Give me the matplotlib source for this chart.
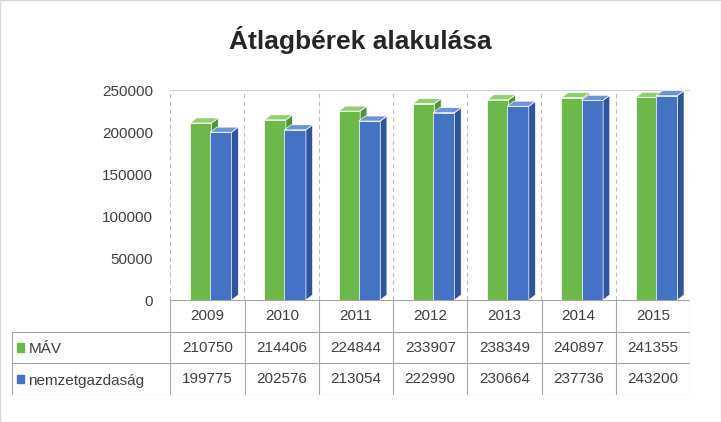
import matplotlib.pyplot as plt
from matplotlib.patches import Polygon, Rectangle

plt.rcParams["font.family"] = ["Liberation Sans", "DejaVu Sans"]

years = ["2009", "2010", "2011", "2012", "2013", "2014", "2015"]
mav = [210750, 214406, 224844, 233907, 238349, 240897, 241355]
nemzet = [199775, 202576, 213054, 222990, 230664, 237736, 243200]
series_names = ["MÁV", "nemzetgazdaság"]
yticks = [0, 50000, 100000, 150000, 200000, 250000]

green_front, green_side, green_top = "#6cb84a", "#4f9435", "#8fd06d"
blue_front, blue_side, blue_top = "#4472c4", "#2f55a0", "#6d93d8"

fig = plt.figure(figsize=(7.21, 4.22), dpi=100)
fig.text(0.5, 0.905, "Átlagbérek alakulása", ha="center", va="center",
         fontsize=19, fontweight="bold", color="#262626")

ax = fig.add_axes([170 / 721, 1 - 300 / 422, 520 / 721, 210 / 422])
ax.set_xlim(-0.5, 6.5)
ax.set_ylim(0, 250000)
for s in ax.spines.values():
    s.set_visible(False)
ax.set_xticks([])
ax.set_yticks(yticks)
ax.tick_params(axis="y", length=0, labelsize=11, labelcolor="#404040", pad=12)

# back wall / grid
for b in range(8):
    ax.axvline(b - 0.5, color="#bfbfbf", lw=0.8, ls=(0, (4, 3)), zorder=0)
ax.plot([-0.5, 6.5], [250000, 250000], color="#d0d0d0", lw=0.8, zorder=0)

w = 0.29
dx, dy = 0.09, 6000


def bar3d(x, h, front, side, top):
    ax.add_patch(Rectangle((x, 0), w, h, facecolor=front, edgecolor="white", lw=0.5, zorder=3))
    ax.add_patch(Polygon([(x + w, 0), (x + w + dx, dy), (x + w + dx, h + dy), (x + w, h)],
                         facecolor=side, edgecolor="white", lw=0.5, zorder=3))
    ax.add_patch(Polygon([(x, h), (x + dx, h + dy), (x + w + dx, h + dy), (x + w, h)],
                         facecolor=top, edgecolor="white", lw=0.5, zorder=3))


for i in range(len(years)):
    bar3d(i - 0.23, mav[i], green_front, green_side, green_top)
    bar3d(i + 0.04, nemzet[i], blue_front, blue_side, blue_top)

# data table
lab_w = 158 / 74
tx = fig.add_axes([12 / 721, 1 - 395 / 422, 678 / 721, 95 / 422])
tx.set_xlim(-0.5 - lab_w, 6.5)
tx.set_ylim(0, 3)
tx.axis("off")
gc = "#a6a6a6"
for b in range(8):
    tx.plot([b - 0.5, b - 0.5], [0, 3], color=gc, lw=0.8)
tx.plot([-0.5 - lab_w, -0.5 - lab_w], [0, 2], color=gc, lw=0.8)
tx.plot([-0.5, 6.5], [3, 3], color=gc, lw=0.8)
for yy in [0, 1, 2]:
    tx.plot([-0.5 - lab_w, 6.5], [yy, yy], color=gc, lw=0.8)
for i, yr in enumerate(years):
    tx.text(i, 2.5, yr, ha="center", va="center", fontsize=11, color="#404040")
    tx.text(i, 1.5, str(mav[i]), ha="center", va="center", fontsize=11, color="#404040")
    tx.text(i, 0.5, str(nemzet[i]), ha="center", va="center", fontsize=11, color="#404040")
for r, (name, col) in enumerate(zip(series_names, [green_front, blue_front])):
    yc = 1.5 - r
    tx.add_patch(Rectangle((-0.5 - lab_w + 0.07, yc - 0.13), 0.09, 0.26, color=col))
    tx.text(-0.5 - lab_w + 0.22, yc - 0.05, name, ha="left", va="center",
            fontsize=11, color="#404040")

fig.patches.append(Rectangle((0, 0), 1, 1, transform=fig.transFigure,
                             fill=False, edgecolor="#d9d9d9", lw=1))
fig.savefig("out.png", dpi=100)
